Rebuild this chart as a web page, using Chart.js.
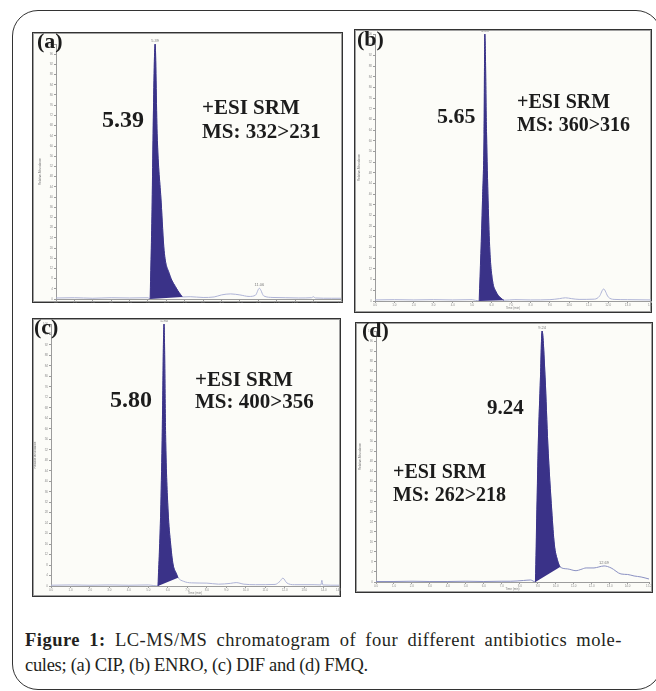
<!DOCTYPE html>
<html>
<head>
<meta charset="utf-8">
<script src="https://cdn.jsdelivr.net/npm/chart.js@4.4.0/dist/chart.umd.min.js"></script>
<style>
  body { margin: 0; width: 656px; height: 691px; overflow: hidden; position: relative; background: #fff; font-family: "Liberation Serif", "DejaVu Serif", serif; }
  .frame { position: absolute; left: 12px; top: 10px; width: 650px; height: 680px; border: 1.5px solid #333; border-radius: 26px; box-sizing: border-box; }
  .panel { position: absolute; border: 1px solid #333; box-shadow: inset 0 0 0 1px #a0a0a0; background: #fcfcf8; box-sizing: border-box; }
  .plot { position: absolute; left: 1px; top: 1px; }
  .lbl { position: absolute; font-weight: bold; font-size: 21px; line-height: 1; color: #1c1c1c; white-space: nowrap; }
  .tag { font-size: 22px; }
  .caption { position: absolute; left: 25px; top: 628px; width: 597px; font-size: 18.5px; line-height: 25px; color: #231f20; white-space: nowrap; }
  .caption .first { letter-spacing: 0.5px; text-align: justify; text-align-last: justify; }
  .caption .second { letter-spacing: -0.3px; }
</style>
</head>
<body>
<div class="frame"></div>

<div class="lbl tag" style="left:37px;top:30px">(a)</div>
<div class="lbl" style="left:102px;top:107px;font-size:24px">5.39</div>
<div class="lbl" style="left:202px;top:97px">+ESI SRM</div>
<div class="lbl" style="left:202px;top:121px">MS: 332&gt;231</div>

<div class="lbl tag" style="left:357px;top:28px">(b)</div>
<div class="lbl" style="left:437px;top:105px;font-size:22px">5.65</div>
<div class="lbl" style="left:517px;top:91px;font-size:20px">+ESI SRM</div>
<div class="lbl" style="left:517px;top:114px;font-size:20px">MS: 360&gt;316</div>

<div class="lbl tag" style="left:34px;top:316px">(c)</div>
<div class="lbl" style="left:110px;top:387px;font-size:24px">5.80</div>
<div class="lbl" style="left:195px;top:369px">+ESI SRM</div>
<div class="lbl" style="left:195px;top:391px">MS: 400&gt;356</div>

<div class="lbl tag" style="left:362px;top:319px">(d)</div>
<div class="lbl" style="left:487px;top:397px">9.24</div>
<div class="lbl" style="left:393px;top:461px;font-size:20px">+ESI SRM</div>
<div class="lbl" style="left:393px;top:484px;font-size:20px">MS: 262&gt;218</div>

<div class="caption">
  <div class="first"><b>Figure 1:</b> LC-MS/MS chromatogram of four different antibiotics mole-</div>
  <div class="second">cules; (a) CIP, (b) ENRO, (c) DIF and (d) FMQ.</div>
</div>

<script>
// retention time (min) and relative abundance (%)

// (a) CIP
const cipTime = [0, 1, 2, 3, 4, 5, 5.12, 5.23, 5.28, 5.39, 5.5, 5.72, 5.88, 6.16, 6.54, 6.87, 7.3, 8.0, 8.6, 9.0, 9.5, 10.0, 10.5, 10.85, 11.06, 11.3, 11.8, 12.5, 13.2, 13.9, 14.0, 14.1, 15.0, 15.5];
const cipSignal = [0.4, 0.5, 0.3, 0.5, 0.4, 0.5, 0, 38, 65, 100, 65, 38, 19, 10, 4.3, 0.8, 0.9, 0.6, 0.8, 1.6, 2.0, 1.6, 1.0, 1.5, 4.2, 1.2, 0.6, 0.5, 0.4, 0.5, 0.9, 0.4, 0.3, 0.3];
const cipPeakTime = [5.12, 5.23, 5.28, 5.39, 5.5, 5.72, 5.88, 6.16, 6.54, 6.87];
const cipPeakSignal = [0, 38, 65, 100, 65, 38, 19, 10, 4.3, 0.8];
const cipBaseTime = [5.12, 6.87];
const cipBaseSignal = [0, 0.8];
const cipMarkTime = [5.39, 11.06];
const cipMarkSignal = [100, 4.2];

// (b) ENRO
const enroTime = [0, 1, 2, 3, 4, 5, 5.36, 5.53, 5.61, 5.65, 5.74, 5.82, 5.91, 6.05, 6.21, 6.47, 6.63, 7.2, 8, 9, 9.5, 9.8, 10.1, 10.5, 11.3, 11.55, 11.76, 12.0, 12.3, 13, 14.2];
const enroSignal = [0.4, 0.5, 0.4, 0.5, 0.4, 0.5, 0, 37.5, 62.5, 100, 62.5, 37.5, 18.7, 7.5, 3.7, 1.1, 0.3, 0.5, 0.4, 0.5, 0.9, 1.2, 0.9, 0.6, 0.7, 1.8, 4.5, 1.5, 0.6, 0.5, 0.4];
const enroPeakTime = [5.36, 5.53, 5.61, 5.65, 5.74, 5.82, 5.91, 6.05, 6.21, 6.47, 6.63];
const enroPeakSignal = [0, 37.5, 62.5, 100, 62.5, 37.5, 18.7, 7.5, 3.7, 1.1, 0.3];
const enroBaseTime = [5.36, 6.63];
const enroBaseSignal = [0, 0.3];
const enroMarkTime = [5.65];
const enroMarkSignal = [100];

// (c) DIF
const difTime = [0, 1, 2, 3, 4, 5, 5.49, 5.63, 5.7, 5.8, 5.89, 6.01, 6.14, 6.26, 6.44, 6.52, 6.8, 7.2, 8.0, 8.6, 9.2, 9.5, 9.9, 10.5, 11.5, 11.75, 11.9, 12.1, 12.5, 13.5, 13.85, 13.9, 13.95, 14.78];
const difSignal = [0.3, 0.4, 0.3, 0.4, 0.3, 0.4, 0, 28.6, 54.2, 100, 54.2, 28.6, 16, 8.4, 4.6, 3.2, 1.8, 1.2, 1.1, 0.7, 1.0, 1.3, 0.7, 0.5, 0.6, 1.8, 3.0, 1.2, 0.5, 0.5, 0.4, 2.2, 0.4, 0.3];
const difPeakTime = [5.49, 5.63, 5.7, 5.8, 5.89, 6.01, 6.14, 6.26, 6.44, 6.52];
const difPeakSignal = [0, 28.6, 54.2, 100, 54.2, 28.6, 16, 8.4, 4.6, 3.2];
const difBaseTime = [5.49, 6.52];
const difBaseSignal = [0, 3.2];
const difMarkTime = [5.8];
const difMarkSignal = [100];

// (d) FMQ
const fmqTime = [0, 1, 2, 3, 4, 5, 6, 7, 7.5, 8.2, 8.6, 8.87, 9.03, 9.15, 9.24, 9.41, 9.56, 9.78, 9.92, 10.11, 10.24, 10.67, 11.13, 11.4, 11.69, 12.13, 12.4, 12.69, 13.08, 13.63, 14.0, 14.36, 14.75, 15.19];
const fmqSignal = [0.2, 0.2, 0.3, 0.2, 0.2, 0.3, 0.2, 0.3, 0.3, 0.6, 0.8, 0, 55, 81.3, 100, 81.3, 55, 28.3, 15.1, 8.4, 6.0, 5.2, 4.5, 5.0, 5.6, 5.6, 6.0, 6.4, 5.6, 3.2, 3.0, 2.4, 2.0, 1.2];
const fmqPeakTime = [8.87, 9.03, 9.15, 9.24, 9.41, 9.56, 9.78, 9.92, 10.11, 10.24];
const fmqPeakSignal = [0, 55, 81.3, 100, 81.3, 55, 28.3, 15.1, 8.4, 6.0];
const fmqBaseTime = [8.87, 10.24];
const fmqBaseSignal = [0, 6.0];
const fmqMarkTime = [9.24, 12.69];
const fmqMarkSignal = [100, 6.4];

const peakColor = '#3a3288';
const axisColor = '#9c9c9c';

const toPoints = (xs, ys) => xs.map((x, i) => ({ x, y: ys[i] }));

// page boxes: panel [left, top, width, height], plot area [left, top, right, bottom]
const panels = [
  { box: [32, 32, 311, 271], plot: [55, 43, 340, 298], xMax: 15.5, line: '#aeb3d6',
    trace: [cipTime, cipSignal], peak: [cipPeakTime, cipPeakSignal], base: [cipBaseTime, cipBaseSignal], marks: [cipMarkTime, cipMarkSignal] },
  { box: [354, 29, 298, 284], plot: [374, 33, 650, 300], xMax: 14.2, line: '#aeb3d6',
    trace: [enroTime, enroSignal], peak: [enroPeakTime, enroPeakSignal], base: [enroBaseTime, enroBaseSignal], marks: [enroMarkTime, enroMarkSignal] },
  { box: [32, 318, 309, 279], plot: [50, 323, 338, 585], xMax: 14.78, line: '#aeb3d6',
    trace: [difTime, difSignal], peak: [difPeakTime, difPeakSignal], base: [difBaseTime, difBaseSignal], marks: [difMarkTime, difMarkSignal] },
  { box: [355, 322, 298, 271], plot: [375, 330, 648, 581], xMax: 15.19, line: '#8a90c2',
    trace: [fmqTime, fmqSignal], peak: [fmqPeakTime, fmqPeakSignal], base: [fmqBaseTime, fmqBaseSignal], marks: [fmqMarkTime, fmqMarkSignal] },
];

// tiny instrument text: peak tags and axis titles
const tinyText = {
  id: 'tinyText',
  afterDatasetsDraw(chart, args, opts) {
    const { ctx, chartArea, scales } = chart;
    const [mt, ms] = opts.marks;
    ctx.save();
    ctx.fillStyle = '#7a7a7a';
    ctx.font = '4px "Liberation Sans", sans-serif';
    ctx.textAlign = 'center';
    ctx.textBaseline = 'bottom';
    mt.forEach((t, i) => {
      ctx.fillText(t.toFixed(2), scales.x.getPixelForValue(t), scales.y.getPixelForValue(ms[i]) - 1);
    });
    ctx.font = '3px "Liberation Sans", sans-serif';
    ctx.textBaseline = 'top';
    ctx.fillText('Time (min)', (chartArea.left + chartArea.right) / 2, chartArea.bottom + 6);
    ctx.translate(chartArea.left - 16, (chartArea.top + chartArea.bottom) / 2);
    ctx.rotate(-Math.PI / 2);
    ctx.textBaseline = 'middle';
    ctx.fillText('Relative Abundance', 0, 0);
    ctx.restore();
  },
};

panels.forEach((p) => {
  const [bl, bt, bw, bh] = p.box;
  const [pl, pt, pr, pb] = p.plot;
  const cw = bw - 2, ch = bh - 2;
  const ox = bl + 1, oy = bt + 1;

  const div = document.createElement('div');
  div.className = 'panel';
  Object.assign(div.style, { left: bl + 'px', top: bt + 'px', width: bw + 'px', height: bh + 'px' });
  const wrap = document.createElement('div');
  wrap.className = 'plot';
  Object.assign(wrap.style, { width: cw + 'px', height: ch + 'px' });
  const canvas = document.createElement('canvas');
  wrap.appendChild(canvas);
  div.appendChild(wrap);
  document.body.insertBefore(div, document.querySelector('.lbl'));

  const tickFont = { size: 3, family: '"Liberation Sans", sans-serif' };

  new Chart(canvas, {
    type: 'line',
    data: {
      datasets: [
        {
          data: toPoints(p.peak[0], p.peak[1]),
          borderColor: peakColor,
          backgroundColor: peakColor,
          borderWidth: 1,
          pointRadius: 0,
          cubicInterpolationMode: 'monotone',
          fill: '+1',
          order: 0,
        },
        {
          data: toPoints(p.base[0], p.base[1]),
          borderWidth: 0,
          borderColor: 'rgba(0,0,0,0)',
          pointRadius: 0,
          fill: false,
          order: 1,
        },
        {
          data: toPoints(p.trace[0], p.trace[1]),
          borderColor: p.line,
          borderWidth: 1,
          pointRadius: 0,
          cubicInterpolationMode: 'monotone',
          fill: false,
          order: 2,
        },
      ],
    },
    options: {
      responsive: true,
      maintainAspectRatio: false,
      animation: false,
      events: [],
      layout: {
        padding: { left: 0, top: pt - oy, right: ox + cw - pr, bottom: 0 },
      },
      plugins: {
        legend: { display: false },
        tooltip: { enabled: false },
        tinyText: { marks: p.marks },
      },
      scales: {
        x: {
          type: 'linear',
          min: 0,
          max: p.xMax,
          afterFit: (s) => { s.height = oy + ch - pb; s.paddingLeft = 0; s.paddingRight = 0; },
          ticks: { stepSize: 1, font: tickFont, color: '#8c8c8c', padding: 0, maxRotation: 0, autoSkip: false, callback: (v) => v.toFixed(1) },
          grid: { display: true, drawOnChartArea: false, tickLength: 2, color: axisColor },
          border: { color: axisColor, width: 1 },
        },
        y: {
          min: 0,
          max: 100,
          afterFit: (s) => { s.width = pl - ox; s.paddingTop = 0; s.paddingBottom = 0; },
          ticks: { stepSize: 4, maxTicksLimit: 100, font: tickFont, color: '#8c8c8c', padding: 1, autoSkip: false, callback: (v) => String(v) },
          grid: { display: true, drawOnChartArea: false, tickLength: 2, color: axisColor },
          border: { color: axisColor, width: 1 },
        },
      },
    },
    plugins: [tinyText],
  });
});
</script>
</body>
</html>
